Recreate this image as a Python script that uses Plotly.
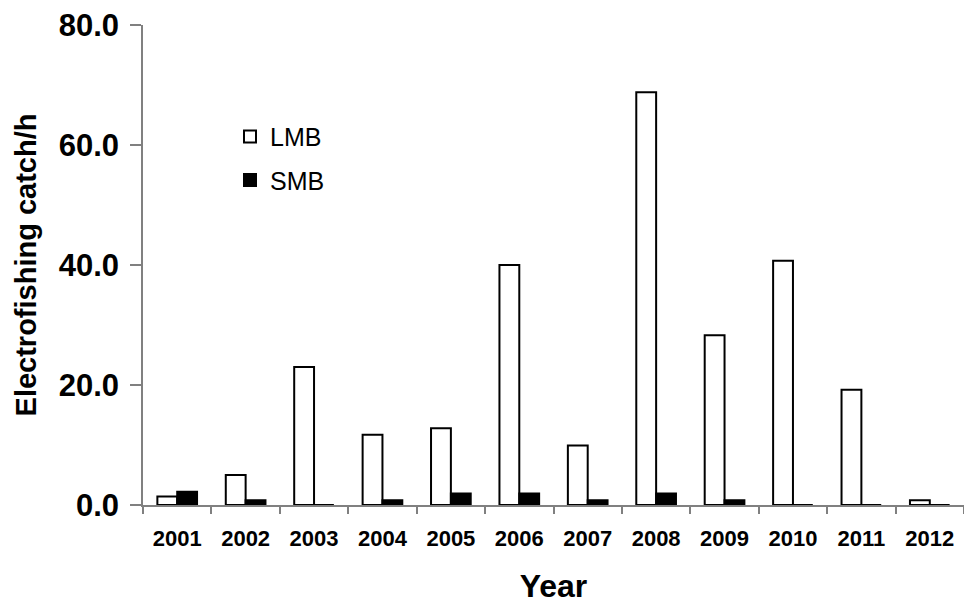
import plotly.graph_objects as go

# Electrofishing catch per hour by year, largemouth (LMB) vs smallmouth (SMB) bass
years = ["2001", "2002", "2003", "2004", "2005", "2006",
         "2007", "2008", "2009", "2010", "2011", "2012"]
lmb = [1.4, 5.0, 23.0, 11.7, 12.8, 40.0, 9.9, 68.8, 28.3, 40.7, 19.2, 0.8]
smb = [2.2, 0.8, 0.0, 0.8, 1.9, 1.9, 0.8, 1.9, 0.8, 0.0, 0.0, 0.0]
y_ticks = [0, 20, 40, 60, 80]

FONT = "Liberation Sans, Arial, sans-serif"
AXIS_GREY = "#808080"

fig = go.Figure()
fig.add_trace(go.Bar(
    x=years, y=lmb, name="LMB", legendgroup="lmb",
    marker=dict(color="white", line=dict(color="black", width=2)),
))
fig.add_trace(go.Bar(
    x=years, y=smb, name="SMB", legendgroup="smb",
    marker=dict(color="black", line=dict(color="black", width=2)),
))

fig.update_layout(
    width=964, height=604,
    margin=dict(l=143, r=0, t=25, b=99),
    paper_bgcolor="white", plot_bgcolor="white",
    barmode="group", bargap=0.42, bargroupgap=0,
    font=dict(family=FONT, color="black"),
    legend=dict(
        x=0.106, y=0.815, xanchor="left", yanchor="top",
        font=dict(size=25, family=FONT, color="black"),
        bgcolor="rgba(0,0,0,0)", tracegroupgap=8,
        traceorder="grouped",
    ),
    xaxis=dict(
        type="category", tickson="boundaries", automargin=False,
        ticks="outside", ticklen=7, tickwidth=1.5, tickcolor=AXIS_GREY,
        ticklabelstandoff=13,
        showline=True, linecolor=AXIS_GREY, linewidth=1.5,
        showgrid=False, zeroline=False,
        tickfont=dict(size=22, family=FONT, color="black", weight="bold"),
        title=dict(text="<b>Year</b>", font=dict(size=32, family=FONT),
                   standoff=32),
    ),
    yaxis=dict(
        range=[0, 80], tickvals=y_ticks, automargin=False,
        ticktext=[f"{v:.1f}" for v in y_ticks],
        ticks="outside", ticklen=11, tickwidth=1.5, tickcolor=AXIS_GREY,
        ticklabelstandoff=5,
        showline=True, linecolor=AXIS_GREY, linewidth=1.5,
        showgrid=False, zeroline=False,
        tickfont=dict(size=31, family=FONT, color="black", weight="bold"),
        title=dict(text="<b>Electrofishing catch/h</b>",
                   font=dict(size=29, family=FONT), standoff=14),
    ),
)

fig.write_html("out.html")
